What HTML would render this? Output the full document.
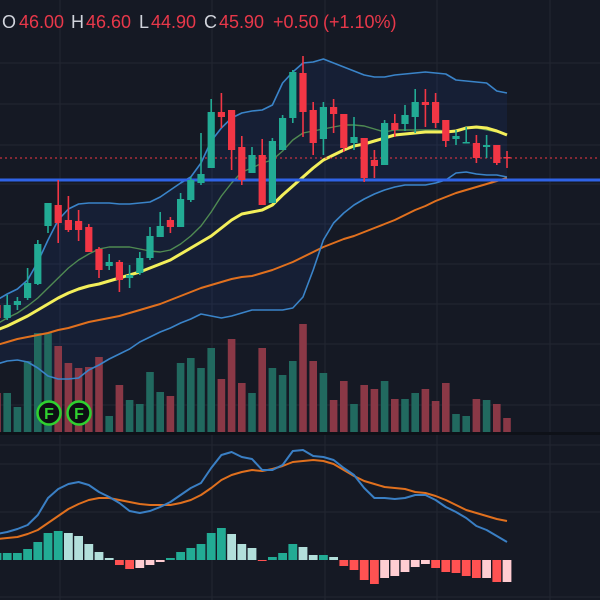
<!DOCTYPE html>
<html><head><meta charset="utf-8"><style>
html,body{margin:0;padding:0;background:#151924;}
svg{display:block;}
text{font-family:"Liberation Sans",sans-serif;}
</style></head><body>
<svg id="chart" width="600" height="600" viewBox="0 0 600 600" xmlns="http://www.w3.org/2000/svg">
<rect width="600" height="600" fill="#151924"/>
<g id="grid"></g>
<g id="bbfill"></g>
<g id="vol"></g>
<g id="lines"></g>
<line x1="0" y1="158" x2="600" y2="158" stroke="#f23645" stroke-width="1" stroke-dasharray="2,3"/>
<line x1="0" y1="180" x2="600" y2="180" stroke="#2f63e6" stroke-width="3"/>
<g id="candles"></g>
<g id="macd"></g>
<g><circle cx="49" cy="413" r="11.5" fill="#0d0f14" stroke="#2fd12f" stroke-width="2.5"/><text x="49" y="419" font-size="16" font-weight="bold" fill="#2fd12f" text-anchor="middle">F</text></g>
<g><circle cx="79" cy="413" r="11.5" fill="#0d0f14" stroke="#2fd12f" stroke-width="2.5"/><text x="79" y="419" font-size="16" font-weight="bold" fill="#2fd12f" text-anchor="middle">F</text></g>
<g font-size="18">
<text x="2" y="28" fill="#d1d4dc">O</text><text x="19" y="28" fill="#e8384a">46.00</text>
<text x="71" y="28" fill="#d1d4dc">H</text><text x="86" y="28" fill="#e8384a">46.60</text>
<text x="139" y="28" fill="#d1d4dc">L</text><text x="151" y="28" fill="#e8384a">44.90</text>
<text x="204" y="28" fill="#d1d4dc">C</text><text x="219" y="28" fill="#e8384a">45.90</text>
<text x="273" y="28" fill="#e8384a">+0.50</text><text x="323" y="28" fill="#e8384a">(+1.10%)</text>
</g>
</svg>
<script>
const opens=[31.2,29.9,31.2,31.9,33.3,39.1,41.2,39.7,39.6,39.0,36.8,35.1,35.5,33.9,34.4,35.9,38.0,39.7,39.0,41.7,43.4,44.9,50.5,50.7,47.0,44.4,46.2,41.4,46.7,49.9,54.4,50.7,47.8,51.0,50.3,47.4,47.9,45.7,45.2,49.4,49.3,50.0,51.5,51.5,49.7,47.8,47.4,47.4,47.0,47.2,46.0];
const highs=[31.7,32.2,32.0,34.9,37.7,41.4,43.7,42.1,40.7,39.3,37.0,36.3,35.7,35.2,36.5,39.0,40.5,40.0,42.4,44.0,48.4,51.8,52.4,50.7,48.1,47.0,47.8,47.9,50.2,54.7,56.1,51.5,51.5,51.8,50.3,50.0,47.9,46.7,49.7,50.3,51.2,52.8,52.8,52.4,49.7,48.7,49.0,48.2,48.2,47.2,46.6];
const lows=[29.5,29.7,30.7,31.7,33.2,38.4,37.4,38.5,37.6,36.5,33.9,34.7,32.5,32.9,34.2,35.7,38.0,38.4,39.0,41.5,43.2,44.9,48.9,44.7,43.2,44.4,41.2,41.4,46.7,49.4,48.0,46.2,46.2,48.4,46.5,46.7,43.5,43.9,45.2,48.0,48.6,48.4,49.0,48.9,47.0,47.2,47.4,45.4,45.9,45.2,44.9];
const closes=[29.9,31.2,31.6,33.4,37.3,41.4,39.4,38.7,38.7,36.5,34.7,35.5,33.7,34.2,35.9,38.1,39.1,39.0,41.8,43.7,44.3,50.5,50.0,46.7,43.7,46.2,41.2,47.6,49.9,54.5,50.5,47.4,51.0,50.3,46.9,48.0,43.9,45.1,49.4,48.7,50.2,51.5,51.2,49.4,47.6,48.1,47.5,45.9,47.2,45.4,45.9];
const volumes=[39,39,25,71,99,99,86,69,64,65,75,16,47,32,28,60,40,36,69,74,64,84,53,93,49,39,84,64,57,71,108,71,59,32,51,28,47,43,51,33,33,39,43,31,49,18,16,33,32,28,14];
const bbUpper=[31.7,32.3,32.8,33.7,35.5,37.7,39.7,40.8,41.3,41.4,41.4,41.4,41.3,41.3,41.4,41.5,42.0,42.7,43.4,44.0,45.4,47.6,48.9,49.9,50.4,50.6,50.7,51.2,53.4,54.5,55.4,55.5,55.8,55.4,55.0,54.6,54.2,54.0,54.0,54.2,54.3,54.4,54.5,54.4,54.3,53.7,53.6,53.5,53.4,52.6,52.4];
const bbLower=[25.3,25.6,25.7,25.5,24.9,24.1,23.8,23.8,23.9,24.7,25.2,25.8,26.3,26.8,27.5,28.0,28.5,28.9,29.4,29.8,30.3,30.1,29.9,30.1,30.4,30.7,30.7,30.7,30.7,30.9,32.0,34.7,37.7,39.4,40.4,41.2,41.8,42.3,42.7,43.0,43.2,43.2,43.2,43.4,43.7,44.4,44.5,44.3,44.2,44.2,44.0];
const bbMid=[29.3,29.9,30.4,31.1,31.9,32.9,33.9,34.9,35.7,36.3,36.8,37.0,37.0,37.0,36.8,36.6,36.5,36.7,37.3,38.1,39.1,40.5,42.1,43.4,44.5,44.9,45.4,45.7,46.6,47.7,48.4,48.6,48.8,49.0,49.2,49.2,49.1,48.8,48.5,48.7,48.7,48.7,48.7,48.7,48.6,48.6,48.9,48.9,48.7,48.5,48.3];
const maFast=[28.7,29.1,29.6,30.1,30.7,31.3,31.9,32.4,32.8,33.1,33.3,33.6,33.9,34.2,34.5,34.9,35.3,35.7,36.3,36.9,37.5,38.1,38.9,39.7,40.3,40.5,40.7,41.2,42.2,43.1,44.0,44.9,45.7,46.2,46.7,47.1,47.3,47.6,47.9,48.2,48.3,48.4,48.5,48.5,48.5,48.6,48.9,49.0,48.9,48.6,48.2];
const maSlow=[27.2,27.5,27.8,28.0,28.2,28.4,28.7,28.9,29.2,29.5,29.7,29.9,30.1,30.4,30.7,31.0,31.3,31.7,32.1,32.5,32.9,33.2,33.5,33.8,34.0,34.1,34.4,34.7,35.1,35.5,36.0,36.5,37.0,37.4,37.8,38.1,38.5,38.9,39.3,39.7,40.2,40.7,41.1,41.6,42.0,42.4,42.7,43.0,43.3,43.6,43.9];
const macdLine=[26,28,31,35,45,62,71,76,78,75,68,63,57,49,47,49,53,58,65,72,77,92,105,108,103,101,90,90,95,109,110,104,103,100,92,85,72,62,62,61,62,65,65,60,53,48,42,34,30,24,18];
const signalLine=[21,22,23,26,30,37,44,51,56,60,62,62,60,58,56,55,55,55,57,60,65,72,80,85,88,90,89,91,94,98,99,100,99,96,90,84,79,76,73,72,71,68,67,64,60,55,50,47,44,41,39];
const histogram=[7,7,7,11,18,27,29,27,24,16,8,2,-5,-9,-8,-5,-2,2,8,12,16,27,32,26,16,12,-1,3,7,16,13,5,5,3,-6,-10,-20,-24,-18,-16,-12,-7,-4,-8,-12,-13,-16,-18,-18,-22,-22];

const NS='http://www.w3.org/2000/svg';
const xAt=i=>-3+10.2*i;
const yPrice=p=>617-10*p;
const yVol=v=>432-v;
const yMacd=m=>560-m;
function mk(tag,attrs,parent){const e=document.createElementNS(NS,tag);for(const k in attrs)e.setAttribute(k,attrs[k]);parent.appendChild(e);return e;}

const grid=document.getElementById('grid');
[60,212,325,437,550].forEach(x=>{const l=mk('line',{x1:x,y1:0,x2:x,y2:600,stroke:'#222632','stroke-width':1},grid);

});
[63,104,145,184,224,264,304,344,405,445,464,512,597].forEach(y=>{const l=mk('line',{x1:0,y1:y,x2:600,y2:y,stroke:'#222632','stroke-width':1},grid);

});
const sep=mk('rect',{x:0,y:432,width:600,height:3,fill:'#0e1118'},grid);



// BB fill
let pts=bbUpper.map((v,i)=>xAt(i)+','+yPrice(v));
for(let i=bbLower.length-1;i>=0;i--)pts.push(xAt(i)+','+yPrice(bbLower[i]));
const fill=mk('polygon',{points:pts.join(' '),fill:'rgba(41,98,255,0.08)'},document.getElementById('bbfill'));



// volume
const vol=document.getElementById('vol');
volumes.forEach((v,i)=>{const up=closes[i]>=opens[i];
const r=mk('rect',{x:xAt(i)-3.8,y:yVol(v),width:7.6,height:v,fill:up?'#21695f':'#8a3846'},vol);

});

// lines
const lines=document.getElementById('lines');
function path(arr,yf,color,w,name,g){const d=arr.map((v,i)=>(i?'L':'M')+xAt(i).toFixed(1)+' '+yf(v).toFixed(1)).join(' ');
const p=mk('path',{d:d,fill:'none',stroke:color,'stroke-width':w,'stroke-linejoin':'round'},g);

}
path(maSlow,yPrice,'#e0701e',2,'slow-moving-average',lines);
path(bbUpper,yPrice,'#3a84c9',1.6,'bollinger-upper',lines);
path(bbLower,yPrice,'#3a84c9',1.6,'bollinger-lower',lines);
path(bbMid,yPrice,'#4f8a52',1.4,'bollinger-middle',lines);
path(maFast,yPrice,'#f3ef5a',3,'fast-moving-average',lines);

// candles
const cg=document.getElementById('candles');
opens.forEach((o,i)=>{const c=closes[i],up=c>=o,col=up?'#22ab94':'#f23645',x=xAt(i);
const g=mk('g',{},cg);


mk('line',{x1:x,y1:yPrice(highs[i]),x2:x,y2:yPrice(lows[i]),stroke:col,'stroke-width':1.6},g);
const t=yPrice(Math.max(o,c)),b=yPrice(Math.min(o,c));
mk('rect',{x:x-3.6,y:t,width:7.2,height:Math.max(1.5,b-t),fill:col},g);});

// macd
const mg=document.getElementById('macd');
histogram.forEach((v,i)=>{const prev=i?histogram[i-1]:v;let col;
if(v>=0)col=v>=prev?'#22ab94':'#b2dfdb';else col=v<prev?'#ff5252':'#ffcdd2';
const y=v>=0?yMacd(v):560;
const r=mk('rect',{x:xAt(i)-4.4,y:y,width:8.8,height:Math.max(1,Math.abs(v)),fill:col},mg);

});
path(signalLine,yMacd,'#e0701e',2,'macd-signal-line',mg);
path(macdLine,yMacd,'#3a7fc4',2,'macd-line',mg);
</script>
</body></html>
